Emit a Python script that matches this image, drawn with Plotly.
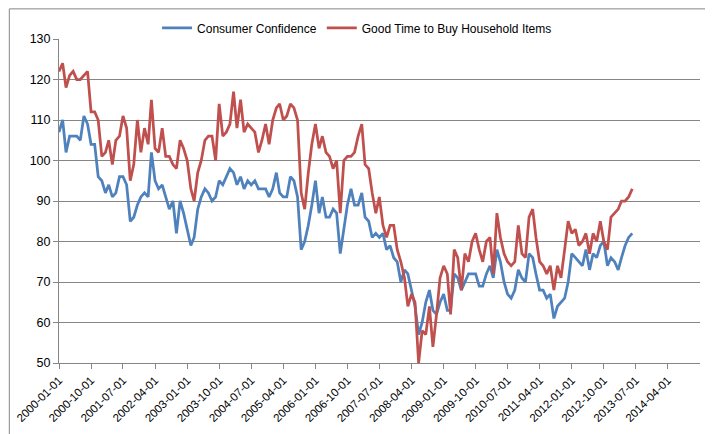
import pandas as pd
import plotly.graph_objects as go

# monthly readings, Jan 2000 .. Jun 2013
months = pd.date_range("2000-01-01", "2013-06-01", freq="MS")

consumer_confidence = [
    107, 110, 102, 106, 106, 106, 105, 111, 109, 104,
    104, 96, 95, 92, 94, 91, 92, 96, 96, 94,
    85, 86, 89, 91, 92, 91, 102, 95, 93, 94,
    91, 88, 90, 82, 90, 87, 83, 79, 81, 88,
    91, 93, 92, 90, 91, 95, 94, 96, 98, 97,
    94, 96, 93, 95, 94, 95, 93, 93, 93, 91,
    93, 97, 92, 91, 91, 96, 95, 91, 78, 80,
    84, 89, 95, 87, 91, 86, 86, 88, 87, 77,
    83, 89, 93, 89, 89, 92, 86, 85, 81, 82,
    81, 82, 78, 79, 76, 75, 70, 73, 72, 68,
    64, 57, 60, 65, 68, 63, 62, 65, 67, 63,
    63, 72, 71, 68, 70, 72, 72, 72, 69, 69,
    72, 74, 71, 78, 75, 70, 67, 66, 68, 73,
    71, 70, 77, 76, 72, 68, 68, 66, 67, 61,
    64, 65, 66, 70, 77, 76, 75, 74, 78, 73,
    77, 76, 79, 80, 74, 76, 75, 73, 76, 79,
    81, 82,
]

household_items = [
    122, 124, 118, 121, 122, 120, 120, 121, 122, 112,
    112, 110, 101, 102, 105, 99, 105, 106, 111, 108,
    95, 99, 110, 102, 108, 104, 115, 103, 102, 108,
    101, 101, 99, 98, 105, 103, 100, 93, 90, 97,
    100, 105, 106, 106, 100, 114, 106, 107, 109, 117,
    108, 115, 107, 109, 108, 107, 102, 105, 109, 104,
    110, 113, 114, 110, 111, 114, 113, 110, 92, 88,
    97, 104, 109, 103, 106, 102, 101, 98, 100, 87,
    100, 101, 101, 102, 106, 109, 99, 98, 92, 87,
    91, 84, 81, 84, 84, 78, 75, 71, 64, 67,
    65, 50, 58, 57, 64, 54, 62, 71, 74, 72,
    62, 78, 76, 68, 77, 75, 80, 82, 78, 75,
    80, 81, 72, 87, 81, 77, 75, 74, 75, 84,
    77, 76, 86, 88, 81, 75, 74, 72, 74, 68,
    74, 71, 78, 85, 82, 83, 79, 80, 82, 77,
    82, 80, 85, 80, 78, 86, 87, 88, 90, 90,
    91, 93,
]

tick_labels = [
    "2000-01-01", "2000-10-01", "2001-07-01", "2002-04-01", "2003-01-01",
    "2003-10-01", "2004-07-01", "2005-04-01", "2006-01-01", "2006-10-01",
    "2007-07-01", "2008-04-01", "2009-01-01", "2009-10-01", "2010-07-01",
    "2011-04-01", "2012-01-01", "2012-10-01", "2013-07-01", "2014-04-01",
]

grid = "#868686"
font = dict(family="Liberation Sans, Arial, sans-serif", size=12, color="#000000")

fig = go.Figure()
fig.add_trace(go.Scatter(x=months, y=consumer_confidence, mode="lines",
                         name="Consumer Confidence",
                         line=dict(color="#4F81BD", width=2.75)))
fig.add_trace(go.Scatter(x=months, y=household_items, mode="lines",
                         name="Good Time to Buy Household Items",
                         line=dict(color="#C0504D", width=2.75)))

fig.update_layout(
    width=713, height=434,
    margin=dict(l=51, r=21, t=31, b=79, autoexpand=False),
    paper_bgcolor="white", plot_bgcolor="white",
    font=font,
    showlegend=True,
    legend=dict(orientation="h", x=0.465, xanchor="center", y=1.034, yanchor="middle",
                font=dict(size=12), itemwidth=30, tracegroupgap=0,
                bgcolor="rgba(0,0,0,0)"),
    xaxis=dict(
        type="date", range=["2000-01-01", "2015-01-01"],
        tickvals=tick_labels, ticktext=tick_labels, tickangle=-45,
        showgrid=False, showline=True, linecolor=grid, linewidth=1,
        ticks="outside", ticklen=5, tickcolor=grid,
        tickfont=dict(size=11.5),
    ),
    yaxis=dict(
        range=[50, 130], dtick=10, tick0=50,
        showgrid=True, gridcolor=grid, gridwidth=1,
        showline=True, linecolor=grid, linewidth=1,
        ticks="outside", ticklen=5, tickcolor=grid,
        tickfont=dict(size=12.5), zeroline=False,
    ),
)

# chart-area border like the spreadsheet export
fig.add_shape(type="rect", xref="paper", yref="paper",
              x0=-0.0775, x1=1.031, y0=-0.241, y1=1.093,
              line=dict(color=grid, width=1), layer="below")

fig.write_html("out.html")
